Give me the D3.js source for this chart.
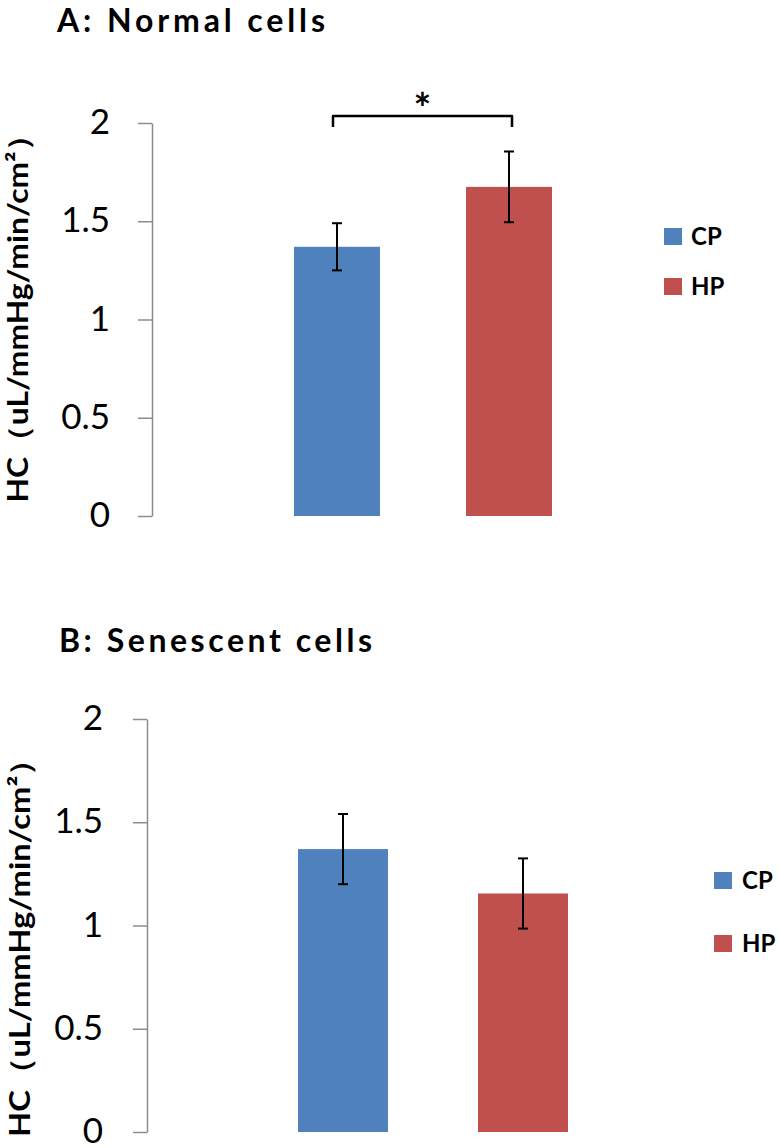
<!DOCTYPE html>
<html>
<head>
<meta charset="utf-8">
<script src="https://cdn.jsdelivr.net/npm/d3@7"></script>
<style>
  html, body { margin: 0; padding: 0; background: #fff; }
  svg { display: block; }
  text { font-family: Lato, "Noto Sans", sans-serif; fill: #000; }
</style>
</head>
<body>
<svg id="chart" width="779" height="1148"></svg>
<script>
// ---- data ----
const groups = ["CP", "HP"];
const colors = ["#4F81BD", "#C0504D"];
const tickValues = [0, 0.5, 1, 1.5, 2];
const tickLabels = ["0", "0.5", "1", "1.5", "2"];
const yLabel = "HC（uL/mmHg/min/cm²）";

const titleA = "A: Normal cells";
const meansA = [1.37, 1.675];
const errA = [0.12, 0.18];
const sigA = [{ from: "CP", to: "HP", level: 2.035, leg: 1.98, label: "*" }];

const titleB = "B: Senescent cells";
const meansB = [1.37, 1.155];
const errB = [0.17, 0.17];
const sigB = [];

// ---- layout for each panel ----
const panels = [
  { title: titleA, means: meansA, errs: errA, sig: sigA,
    titleX: 57, titleY: 32, titleLen: 268,
    y0: 516, y1: 123, axisX: 152, xr: [208, 638], tickPad: 28,
    ylabX: 28, ylabCY: 311, ylabLen: 383,
    legX: 664, legY: [228, 278], textX: 691 },
  { title: titleB, means: meansB, errs: errB, sig: sigB,
    titleX: 59, titleY: 652, titleLen: 313,
    y0: 1132, y1: 719, axisX: 147, xr: [208, 658], tickPad: 30,
    ylabX: 30, ylabCY: 940, ylabLen: 394,
    legX: 714, legY: [872, 935], textX: 742 }
];

const svg = d3.select("#chart");

panels.forEach(p => {
  const g = svg.append("g");

  // title
  g.append("text")
    .attr("x", p.titleX).attr("y", p.titleY)
    .attr("font-size", 32).attr("font-weight", "bold")
    .attr("textLength", p.titleLen).attr("lengthAdjust", "spacing")
    .text(p.title);

  const y = d3.scaleLinear().domain([0, 2]).range([p.y0, p.y1]);
  const x = d3.scaleBand().domain(groups).range(p.xr).paddingInner(0.5).paddingOuter(0.5);

  // axis
  const axis = d3.axisLeft(y)
    .tickValues(tickValues)
    .tickFormat((d, i) => tickLabels[i])
    .tickSize(14).tickSizeOuter(0).tickPadding(p.tickPad);
  const ag = g.append("g").attr("transform", `translate(${p.axisX},0)`).call(axis);
  ag.select(".domain").attr("stroke", "#8c8c8c").attr("stroke-width", 1.5);
  ag.selectAll(".tick line").attr("stroke", "#8c8c8c").attr("stroke-width", 1.5);
  ag.selectAll(".tick text")
    .attr("font-family", "Lato, 'Noto Sans', sans-serif")
    .attr("font-size", 35).attr("fill", "#000").attr("dy", "0.3em");

  // y label
  g.append("text")
    .attr("transform", `translate(${p.ylabX},${p.ylabCY}) rotate(-90)`)
    .attr("text-anchor", "middle")
    .attr("font-size", 28).attr("font-weight", "bold")
    .attr("textLength", p.ylabLen).attr("lengthAdjust", "spacingAndGlyphs")
    .text(yLabel);

  // bars
  g.selectAll("rect.bar").data(groups).enter().append("rect")
    .attr("class", "bar")
    .attr("x", d => x(d))
    .attr("width", x.bandwidth())
    .attr("y", (d, i) => y(p.means[i]))
    .attr("height", (d, i) => y(0) - y(p.means[i]))
    .attr("fill", (d, i) => colors[i]);

  // error bars
  const cap = 5;
  groups.forEach((d, i) => {
    const cx = x(d) + x.bandwidth() / 2;
    const hi = y(p.means[i] + p.errs[i]);
    const lo = y(p.means[i] - p.errs[i]);
    const eg = g.append("g").attr("stroke", "#000").attr("stroke-width", 2);
    eg.append("line").attr("x1", cx).attr("x2", cx).attr("y1", hi).attr("y2", lo);
    eg.append("line").attr("x1", cx - cap).attr("x2", cx + cap).attr("y1", hi).attr("y2", hi);
    eg.append("line").attr("x1", cx - cap).attr("x2", cx + cap).attr("y1", lo).attr("y2", lo);
  });

  // significance brackets
  p.sig.forEach(s => {
    const xa = x(s.from) + x.bandwidth() / 2 - 4;
    const xb = x(s.to) + x.bandwidth() / 2 + 3;
    const yl = y(s.level), yg = y(s.leg);
    g.append("path")
      .attr("d", `M${xa},${yg} L${xa},${yl} L${xb},${yl} L${xb},${yg}`)
      .attr("fill", "none").attr("stroke", "#000").attr("stroke-width", 2.5)
      .attr("stroke-linejoin", "round");
    g.append("text")
      .attr("x", (xa + xb) / 2).attr("y", yl + 8)
      .attr("text-anchor", "middle")
      .attr("font-size", 42).attr("font-weight", "bold")
      .text(s.label);
  });

  // legend
  groups.forEach((d, i) => {
    g.append("rect")
      .attr("x", p.legX).attr("y", p.legY[i])
      .attr("width", 18).attr("height", 17)
      .attr("fill", colors[i]);
    g.append("text")
      .attr("x", p.textX).attr("y", p.legY[i] + 17)
      .attr("font-size", 24).attr("font-weight", "bold")
      .text(d);
  });
});
</script>
</body>
</html>
